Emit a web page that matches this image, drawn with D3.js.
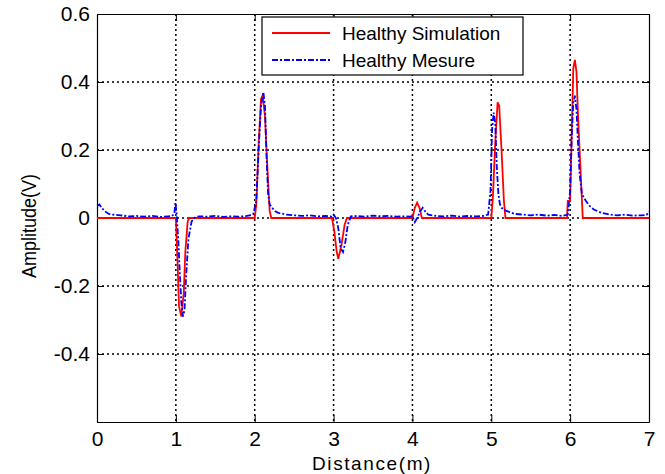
<!DOCTYPE html>
<html><head><meta charset="utf-8">
<script src="https://cdn.jsdelivr.net/npm/d3@7"></script>
<style>body{margin:0;background:#fff}svg{display:block}</style>
</head><body>
<svg id="c" width="665" height="474"></svg>
<script>
const xTicks = [0,1,2,3,4,5,6,7];
const yTicks = [-0.4,-0.2,0,0.2,0.4,0.6];
const seriesNames = ["Healthy Simulation","Healthy Mesure"];
const simX = [0,1.0,1.02,1.04,1.07,1.1,1.12,1.15,1.17,2.0,2.02,2.05,2.08,2.1,2.13,2.16,2.19,2.21,2.98,3.01,3.04,3.06,3.1,3.14,3.17,4.0,4.03,4.06,4.09,4.12,5.0,5.02,5.05,5.08,5.1,5.13,5.16,5.18,5.96,5.97,6.0,6.02,6.04,6.06,6.08,6.1,6.13,6.15,6.16,7.0];
const simY = [0,0,-0.12,-0.26,-0.29,-0.22,-0.1,-0.01,0,0,0.04,0.22,0.35,0.36,0.3,0.15,0.02,0,0,-0.04,-0.1,-0.12,-0.08,-0.02,0,0,0.03,0.045,0.03,0,0,0.06,0.22,0.34,0.33,0.2,0.05,0,0,0.05,0.05,0.25,0.44,0.465,0.43,0.3,0.15,0.05,0,0];
const measX = [0,0.03,0.06,0.1,0.15,0.2,0.3,0.4,0.5,0.6,0.7,0.8,0.9,0.95,0.98,0.995,1.01,1.03,1.05,1.07,1.09,1.11,1.13,1.16,1.2,1.25,1.3,1.4,1.5,1.6,1.7,1.8,1.9,1.98,2.02,2.05,2.08,2.11,2.13,2.15,2.17,2.19,2.22,2.26,2.3,2.4,2.5,2.6,2.7,2.8,2.9,2.97,3.0,3.03,3.06,3.09,3.12,3.15,3.18,3.22,3.3,3.4,3.5,3.6,3.7,3.8,3.9,3.97,4.0,4.03,4.06,4.1,4.13,4.16,4.2,4.3,4.4,4.5,4.6,4.7,4.8,4.9,4.96,4.99,5.01,5.03,5.05,5.07,5.09,5.11,5.13,5.16,5.2,5.3,5.4,5.5,5.6,5.7,5.8,5.9,5.97,6.0,6.02,6.04,6.06,6.08,6.1,6.12,6.15,6.2,6.25,6.3,6.4,6.5,6.6,6.7,6.8,6.9,6.97,7.0];
const measY = [0.035,0.04,0.03,0.02,0.012,0.01,0.008,0.005,0.006,0.004,0.006,0.003,0.005,0.006,0.012,0.045,0.01,-0.06,-0.16,-0.25,-0.29,-0.27,-0.17,-0.06,-0.01,0.003,0.005,0.004,0.006,0.003,0.005,0.004,0.006,0.01,0.05,0.2,0.33,0.37,0.33,0.18,0.07,0.04,0.03,0.02,0.015,0.01,0.008,0.006,0.008,0.005,0.006,0.004,0.01,0.0,-0.03,-0.09,-0.1,-0.07,-0.02,0.005,0.006,0.004,0.007,0.005,0.006,0.004,0.005,0.004,0.006,-0.012,0.0,0.02,0.03,0.02,0.01,0.006,0.005,0.007,0.004,0.006,0.005,0.006,0.01,0.08,0.26,0.31,0.28,0.15,0.07,0.04,0.03,0.025,0.02,0.012,0.01,0.008,0.01,0.007,0.009,0.006,0.01,0.08,0.24,0.34,0.36,0.32,0.22,0.13,0.07,0.05,0.035,0.025,0.015,0.01,0.008,0.01,0.007,0.008,0.009,0.02];

const svg = d3.select("#c");
const L=97,R=649,T=14,B=422;
const x = d3.scaleLinear().domain([0,7]).range([L,R]);
const y = d3.scaleLinear().domain([-0.6,0.6]).range([B,T]);
const font = "Arial, 'Liberation Sans', sans-serif";

// grid
const g = svg.append("g");
g.selectAll(".gx").data(xTicks.filter(d=>d>0&&d<7)).enter().append("line")
 .attr("x1",d=>x(d)).attr("x2",d=>x(d)).attr("y1",T).attr("y2",B)
 .attr("stroke","#000").attr("stroke-width",1.5).attr("stroke-dasharray","2,3");
g.selectAll(".gy").data(yTicks.filter(d=>d<0.6)).enter().append("line")
 .attr("y1",d=>y(d)).attr("y2",d=>y(d)).attr("x1",L).attr("x2",R)
 .attr("stroke","#000").attr("stroke-width",1.5).attr("stroke-dasharray","2,3");

const fmtY = d => d===-0.6 ? "" : (d===0 ? "0" : d3.format(".1f")(d).replace("\u2212","-"));

// axes
const xa = svg.append("g").attr("transform",`translate(0,${B})`)
 .call(d3.axisBottom(x).tickValues(xTicks).tickSizeInner(-7).tickSizeOuter(0).tickPadding(9).tickFormat(d3.format("d")));
const xt = svg.append("g").attr("transform",`translate(0,${T})`)
 .call(d3.axisTop(x).tickValues(xTicks).tickSizeInner(-7).tickSizeOuter(0).tickFormat(""));
const ya = svg.append("g").attr("transform",`translate(${L},0)`)
 .call(d3.axisLeft(y).tickValues(yTicks.concat([-0.6])).tickSizeInner(-7).tickSizeOuter(0).tickPadding(7).tickFormat(fmtY));
const yr = svg.append("g").attr("transform",`translate(${R},0)`)
 .call(d3.axisRight(y).tickValues(yTicks).tickSizeInner(-7).tickSizeOuter(0).tickFormat(""));
[xa,xt,ya,yr].forEach(a=>{a.select(".domain").attr("stroke","#000").attr("stroke-width",1.2);a.selectAll("line").attr("stroke","#000");
 a.selectAll("text").attr("font-family",font).attr("font-size",21).attr("fill","#000");});

// lines
const line = d3.line().x(d=>x(d[0])).y(d=>y(d[1]));
svg.append("clipPath").attr("id","cp").append("rect").attr("x",L).attr("y",T).attr("width",R-L).attr("height",B-T);
svg.append("path").datum(simX.map((v,i)=>[v,simY[i]])).attr("d",line)
 .attr("fill","none").attr("stroke","#ff0000").attr("stroke-width",1.8).attr("clip-path","url(#cp)");
svg.append("path").datum(measX.map((v,i)=>[v,measY[i]])).attr("d",line)
 .attr("fill","none").attr("stroke","#0000ff").attr("stroke-width",1.8).attr("stroke-dasharray","6,2,2,2").attr("clip-path","url(#cp)");

// legend
const lg = svg.append("g");
lg.append("rect").attr("x",262).attr("y",17).attr("width",261).attr("height",58).attr("fill","#fff").attr("stroke","#000").attr("stroke-width",1.2);
lg.append("line").attr("x1",272).attr("x2",330).attr("y1",33).attr("y2",33).attr("stroke","#ff0000").attr("stroke-width",1.8);
lg.append("line").attr("x1",272).attr("x2",330).attr("y1",60).attr("y2",60).attr("stroke","#0000ff").attr("stroke-width",1.8).attr("stroke-dasharray","6,2,2,2");
lg.selectAll("text").data(seriesNames).enter().append("text")
 .attr("x",342).attr("y",(d,i)=>33+i*27).attr("dy","0.36em").attr("font-family",font).attr("font-size",19).text(d=>d);

// axis titles
svg.append("text").attr("x",372).attr("y",470).attr("text-anchor","middle").attr("font-family",font).attr("font-size",19).attr("letter-spacing",1.6).text("Distance(m)");
svg.append("text").attr("transform","translate(36,226) rotate(-90)").attr("text-anchor","middle").attr("font-family",font).attr("font-size",21)
 .attr("textLength",104).attr("lengthAdjust","spacingAndGlyphs").text("Amplitude(V)");
</script>
</body></html>
